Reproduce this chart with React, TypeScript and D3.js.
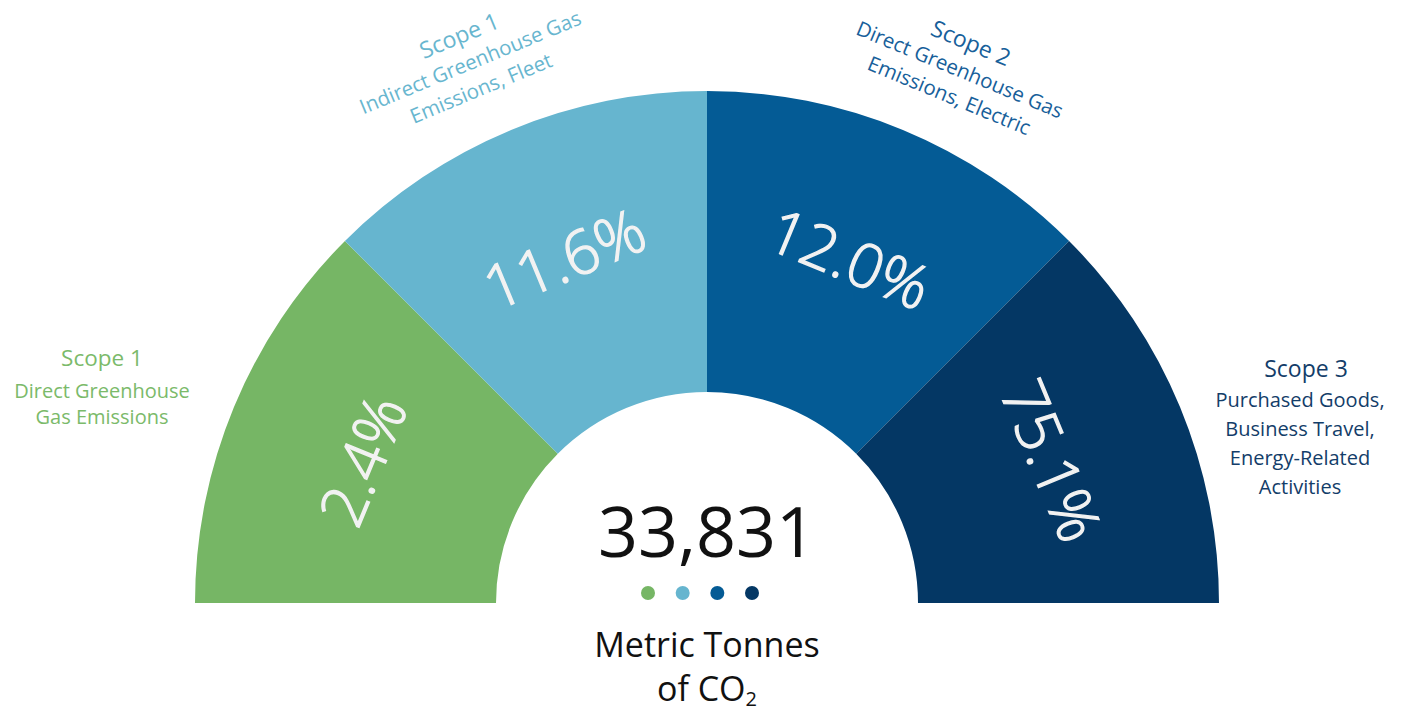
import React from "react";
import * as d3 from "d3";

const categories = ["Scope 1 Direct", "Scope 1 Indirect", "Scope 2", "Scope 3"];
const percentLabels = ["2.4%", "11.6%", "12.0%", "75.1%"];
const colors = ["#76B665", "#66B5CF", "#045B95", "#043764"];
const textColors = ["#7BBA6A", "#68B6CF", "#17609A", "#133D69"];
const titles = ["Scope 1", "Scope 1", "Scope 2", "Scope 3"];
const subtitles: string[][] = [
  ["Direct Greenhouse", "Gas Emissions"],
  ["Indirect Greenhouse Gas", "Emissions, Fleet"],
  ["Direct Greenhouse Gas", "Emissions, Electric"],
  ["Purchased Goods,", "Business Travel,", "Energy-Related", "Activities"],
];
const totalValue = 33831;
const unitLine1 = "Metric Tonnes";

const W = 1411;
const H = 713;
const cx = 707;
const cy = 603;
const outerR = 512;
const innerR = 211;
const FONT = "'Open Sans', 'Noto Sans', sans-serif";

export default function App() {
  const angle = d3
    .scaleLinear()
    .domain([0, categories.length])
    .range([-Math.PI / 2, Math.PI / 2]);
  const arc = d3.arc<any>().innerRadius(innerR).outerRadius(outerR);
  const deg = (r: number) => (r * 180) / Math.PI;

  const dotX = d3
    .scalePoint<string>()
    .domain(categories)
    .range([648, 752]);

  return (
    <svg
      width={W}
      height={H}
      style={{ position: "absolute", left: 0, top: 0, background: "#fff" }}
      fontFamily={FONT}
    >
      <g transform={`translate(${cx},${cy})`}>
        {categories.map((c, i) => (
          <path
            key={c}
            d={arc({ startAngle: angle(i), endAngle: angle(i + 1) }) as string}
            fill={colors[i]}
          />
        ))}
        {categories.map((c, i) => {
          const mid = (angle(i) + angle(i + 1)) / 2;
          const r = 374;
          const x = r * Math.sin(mid);
          const y = -r * Math.cos(mid);
          return (
            <text
              key={c + "pct"}
              transform={`translate(${x},${y}) rotate(${deg(mid)})`}
              textAnchor="middle"
              dominantBaseline="central"
              fontSize={61}
              fontWeight={300}
              fill="#F2F2F2"
              stroke="#F2F2F2"
              strokeWidth={1.3}
            >
              {percentLabels[i]}
            </text>
          );
        })}
        {[1, 2].map((i) => {
          const mid = (angle(i) + angle(i + 1)) / 2;
          const off = i === 1 ? -0.02 : 0.05;
          const a = mid + off;
          const r = 591;
          const x = r * Math.sin(a);
          const y = -r * Math.cos(a);
          return (
            <g key={"outer" + i} transform={`translate(${x},${y}) rotate(${deg(mid)})`}>
              <text
                y={-29}
                textAnchor="middle"
                dominantBaseline="central"
                fontSize={23}
                fill={textColors[i]}
              >
                {titles[i]}
              </text>
              {subtitles[i].map((s, j) => (
                <text
                  key={j}
                  y={j * 28}
                  textAnchor="middle"
                  dominantBaseline="central"
                  fontSize={20.5}
                  fill={textColors[i]}
                >
                  {s}
                </text>
              ))}
            </g>
          );
        })}
      </g>

      {/* left label */}
      <g>
        <text x={102} y={366} textAnchor="middle" fontSize={22.5} fill={textColors[0]}>
          {titles[0]}
        </text>
        {subtitles[0].map((s, j) => (
          <text key={j} x={102} y={398 + j * 26} textAnchor="middle" fontSize={20} fill={textColors[0]}>
            {s}
          </text>
        ))}
      </g>

      {/* right label */}
      <g>
        <text x={1306} y={377} textAnchor="middle" fontSize={23} fill={textColors[3]}>
          {titles[3]}
        </text>
        {subtitles[3].map((s, j) => (
          <text key={j} x={1300} y={407 + j * 29} textAnchor="middle" fontSize={20} fill={textColors[3]}>
            {s}
          </text>
        ))}
      </g>

      {/* center */}
      <text x={cx} y={557} textAnchor="middle" fontSize={70} fill="#111">
        {d3.format(",")(totalValue)}
      </text>
      {categories.map((c, i) => (
        <circle key={c + "dot"} cx={dotX(c)} cy={593} r={7} fill={colors[i]} />
      ))}
      <text x={cx} y={657} textAnchor="middle" fontSize={34} fill="#111">
        {unitLine1}
      </text>
      <text x={cx} y={701} textAnchor="middle" fontSize={34} fill="#111">
        of CO<tspan fontSize={20} dy={5}>2</tspan>
      </text>
    </svg>
  );
}
